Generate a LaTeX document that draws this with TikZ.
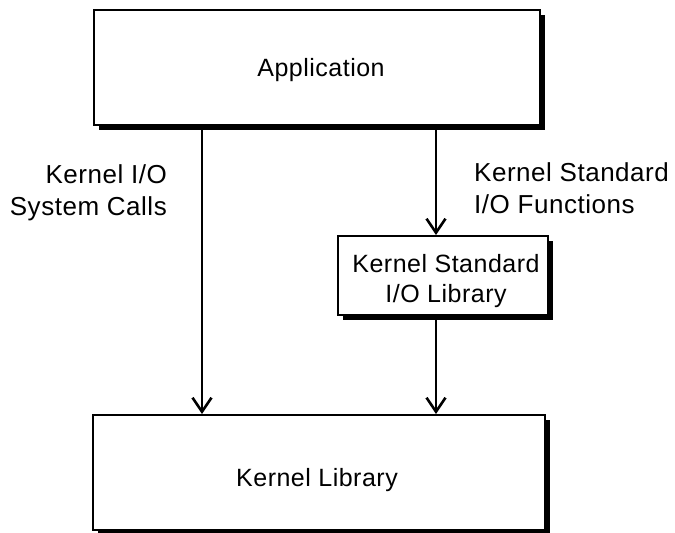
\documentclass[tikz,border=0pt]{standalone}
\usepackage{fontspec}
\setmainfont{Liberation Sans}[LetterSpace=2]
\usetikzlibrary{arrows.meta,shadows}

\tikzset{
  layerbox/.style={draw=black, line width=2pt, fill=white, inner sep=0pt,
    drop shadow={shadow xshift=5pt, shadow yshift=-5pt, fill=black, opacity=1}},
  boxtext/.style={font=\fontsize{25}{30}\selectfont, align=center, inner sep=0pt},
  flow/.style={line width=1.1pt,
    -{Straight Barb[length=14pt,width=19pt,line width=2.6pt]}},
  note/.style={inner sep=0pt, font=\fontsize{26}{32}\selectfont}
}

\begin{document}
\begin{tikzpicture}[x=1pt,y=-1pt]
  \useasboundingbox (0,0) rectangle (675,533);

  % columns carrying the two call paths
  \coordinate (lx) at (202,0);
  \coordinate (rx) at (436,0);

  % layer boxes with drop shadows
  \node[layerbox, minimum width=446pt, minimum height=115pt] (app) at (317,67.5) {};
  \node[layerbox, minimum width=452pt, minimum height=115pt] (lib) at (319,472.5) {};
  \node[layerbox, minimum width=210pt, minimum height=79pt] (std) at (443,275.5) {};

  \node[boxtext] (apptext) at (321,70.5) {Application};
  \node[boxtext] (libtext) at (317,480.5) {Kernel Library};
  \node[boxtext] (stdtext) at (446,281.5) {Kernel Standard\\I/O Library};

  % call paths
  \draw[flow] (app.south -| lx) -- (lib.north -| lx);
  \draw[flow] (app.south -| rx) -- (std.north -| rx);
  \draw[flow] (std.south -| rx) -- (lib.north -| rx);

  \node[note, align=right, anchor=east] (sys) at (167,193)
    {Kernel I/O\hspace{7pt}\\System Calls};
  \node[note, align=left, anchor=west] (fn) at (474,188)
    {Kernel Standard\\I/O Functions};
\end{tikzpicture}
\end{document}
